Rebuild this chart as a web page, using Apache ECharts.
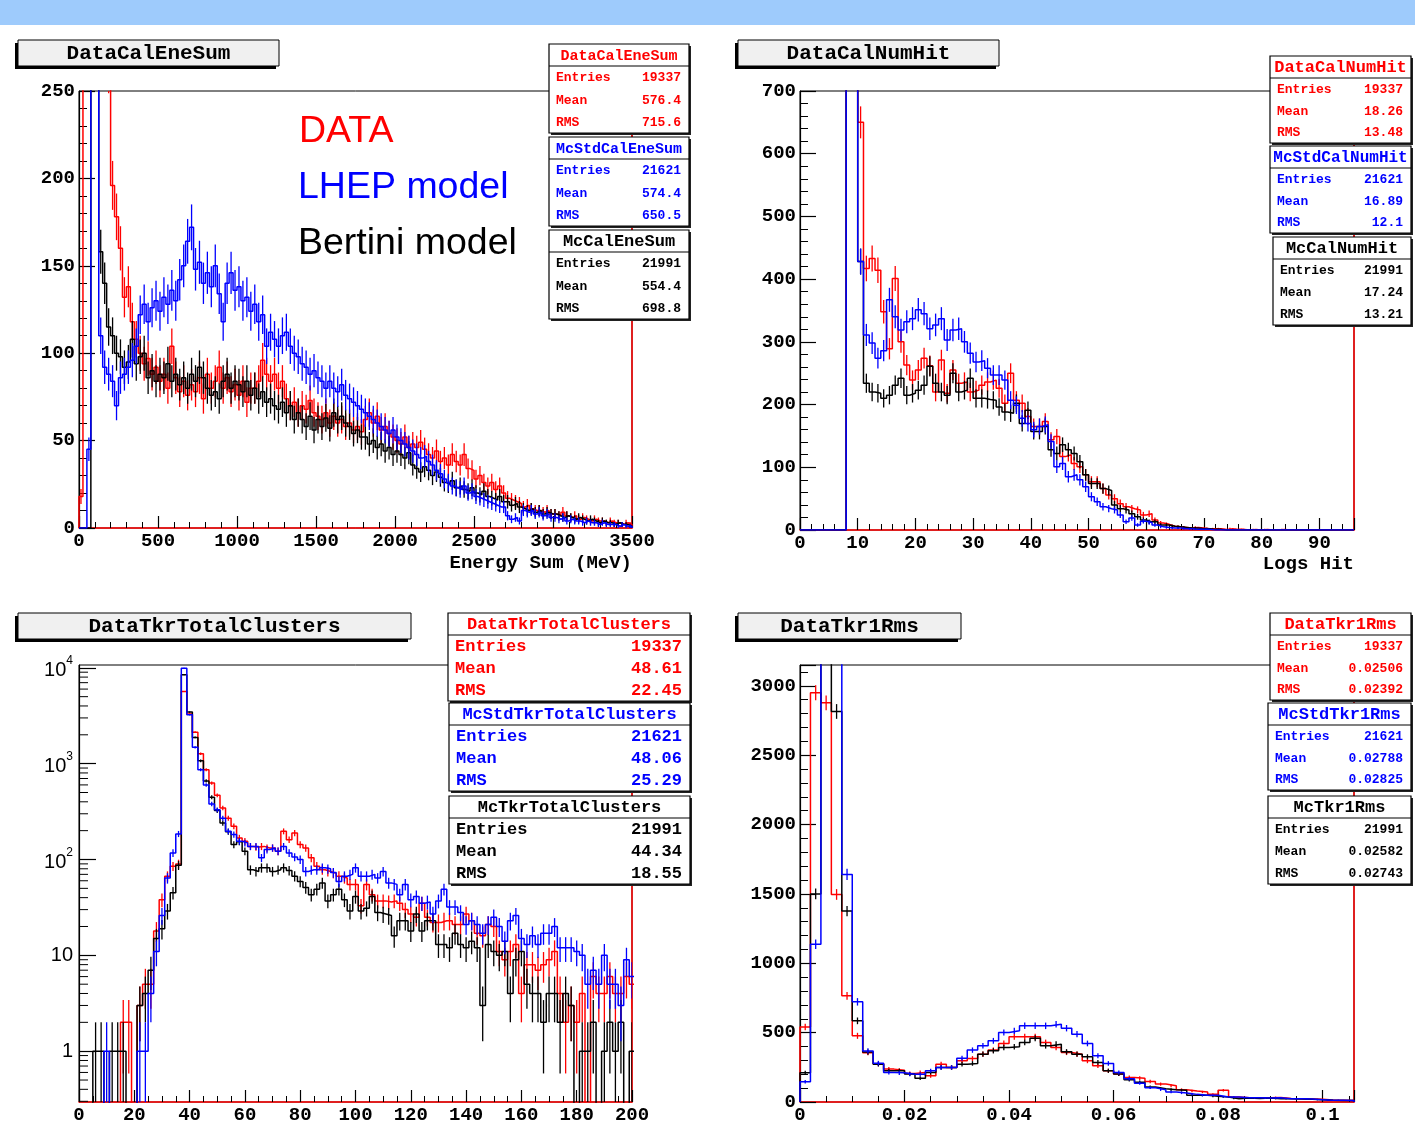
<!DOCTYPE html>
<html>
<head>
<meta charset="utf-8">
<title>DataCalEneSum / DataCalNumHit / DataTkrTotalClusters / DataTkr1Rms</title>
<script src="https://cdn.jsdelivr.net/npm/echarts@6.0.0/dist/echarts.min.js"></script>
<style>
html, body { margin: 0; padding: 0; background: #ffffff; }
#chart { width: 1415px; height: 1125px; }
</style>
</head>
<body>
<div id="chart"></div>
<script>
// ---------------- DATA ----------------
// Panel 1: Energy Sum (MeV), bins of 25 MeV starting at 0
const eneSumBinLow = 0, eneSumBinWidth = 25;
const eneSumData = [
  18, 320, 420, 480, 420, 360, 300, 265, 196, 178,
  160, 132, 138, 118, 108, 100, 94, 97, 88, 92,
  84, 88, 80, 104, 86, 78, 84, 76, 82, 78,
  86, 74, 88, 80, 84, 92, 80, 86, 78, 82,
  76, 84, 72, 80, 80, 84, 96, 88, 84, 88,
  80, 84, 74, 70, 72, 66, 70, 68, 73, 66,
  64, 62, 66, 60, 64, 60, 62, 58, 60, 56,
  58, 55, 62, 66, 60, 64, 56, 58, 54, 52,
  50, 48, 52, 46, 48, 46, 49, 45, 42, 40,
  44, 38, 40, 36, 42, 38, 36, 42, 34, 33,
  28, 30, 26, 24, 26, 22, 24, 20, 17, 16,
  15, 14, 12, 13, 11, 10, 10, 9, 10, 8,
  8, 7, 9, 7, 6, 7, 5, 6, 5, 4,
  5, 4, 4, 3, 4, 3, 3, 2, 3, 2
];
const eneSumLhep = [
  0, 0, 45, 420, 360, 110, 92, 88, 84, 70,
  86, 88, 92, 96, 104, 122, 128, 118, 126, 130,
  124, 132, 128, 136, 130, 142, 150, 164, 172, 148,
  152, 140, 146, 138, 150, 134, 118, 140, 146, 136,
  138, 130, 132, 124, 128, 118, 122, 104, 112, 108,
  104, 110, 112, 104, 100, 98, 94, 92, 88, 90,
  86, 84, 80, 84, 80, 78, 82, 76, 74, 72,
  70, 68, 66, 64, 62, 60, 58, 56, 54, 56,
  52, 50, 48, 46, 44, 42, 40, 41, 38, 36,
  33, 31, 28, 26, 24, 23, 22, 24, 20, 21,
  18, 17, 16, 15, 14, 13, 12, 12, 7, 5,
  6, 4, 10, 9, 10, 8, 9, 7, 8, 6,
  6, 5, 6, 4, 5, 4, 4, 3, 4, 3,
  3, 2, 3, 2, 2, 2, 1, 2, 1, 1
];
const eneSumBertini = [
  0, 0, 0, 400, 380, 158, 140, 115, 110, 100,
  98, 92, 95, 108, 94, 98, 100, 86, 90, 84,
  88, 86, 94, 84, 88, 82, 86, 80, 88, 84,
  92, 86, 80, 76, 78, 74, 84, 88, 80, 84,
  82, 78, 84, 76, 80, 74, 78, 72, 74, 70,
  68, 72, 66, 70, 62, 66, 62, 58, 64, 56,
  62, 58, 63, 57, 66, 62, 64, 60, 58, 54,
  56, 52, 52, 48, 50, 46, 48, 44, 46, 42,
  44, 42, 40, 43, 36, 34, 32, 35, 33, 30,
  32, 29, 26, 25, 27, 23, 24, 22, 21, 23,
  20, 19, 21, 18, 17, 16, 18, 15, 15, 13,
  14, 12, 11, 10, 11, 9, 10, 8, 9, 8,
  8, 7, 6, 7, 6, 5, 6, 5, 4, 5,
  4, 3, 4, 3, 3, 2, 3, 2, 2, 1
];

// Panel 2: Logs Hit, bins of 1 starting at 0
const numHitBinLow = 0, numHitBinWidth = 1;
const numHitData = [
  0, 0, 0, 0, 0, 0, 0, 0, 2600, 2900,
  650, 417, 433, 414, 348, 289, 401, 300, 263, 239,
  255, 274, 262, 220, 271, 218, 255, 234, 236, 220,
  223, 231, 236, 239, 226, 202, 250, 207, 202, 181,
  165, 165, 173, 144, 149, 117, 120, 106, 101, 88,
  77, 77, 66, 56, 50, 42, 37, 34, 32, 24,
  26, 16, 11, 9, 6, 5, 4, 3, 4, 3,
  2, 2, 2, 1, 2, 1, 1, 0, 1, 0,
  1, 0, 0, 1, 0, 0, 0, 0, 0, 0,
  0, 0, 0, 0, 0, 0
];
const numHitLhep = [
  0, 0, 0, 0, 0, 0, 0, 0, 3000, 2800,
  428, 311, 298, 274, 286, 367, 340, 319, 332, 337,
  351, 345, 321, 327, 337, 303, 319, 321, 300, 282,
  268, 270, 258, 247, 247, 239, 207, 199, 178, 170,
  160, 165, 168, 141, 101, 106, 85, 88, 80, 69,
  53, 45, 37, 34, 32, 24, 13, 19, 8, 14,
  12, 8, 5, 4, 3, 3, 2, 2, 1, 1,
  1, 0, 0, 0, 0, 0, 0, 0, 0, 0,
  0, 0, 0, 0, 0, 0, 0, 0, 0, 0,
  0, 0, 0, 0, 0, 0
];
const numHitBertini = [
  0, 0, 0, 0, 0, 0, 0, 0, 2800, 3000,
  428, 234, 220, 218, 210, 215, 231, 242, 215, 218,
  223, 231, 261, 234, 220, 215, 250, 220, 223, 242,
  210, 210, 208, 207, 196, 188, 186, 202, 170, 191,
  157, 157, 165, 128, 122, 136, 128, 122, 109, 88,
  74, 74, 66, 63, 40, 34, 32, 26, 21, 16,
  13, 13, 8, 8, 6, 5, 4, 3, 3, 2,
  2, 1, 1, 0, 0, 0, 0, 0, 0, 0,
  0, 0, 0, 0, 0, 0, 0, 0, 0, 0,
  0, 0, 0, 0, 0, 0
];

// Panel 3: Tkr total clusters, bins of 2 centred on even numbers (0..200)
const clustersBinLow = -1, clustersBinWidth = 2;
const clustersData = [
  0, 0, 0, 0, 0, 0, 0, 0, 2, 2,
  0, 3, 5, 5, 18, 38, 67, 85, 90, 5660,
  3290, 2130, 1270, 865, 628, 468, 345, 270, 222, 168,
  155, 137, 135, 137, 132, 132, 122, 197, 161, 189,
  143, 132, 104, 85, 78, 75, 72, 67, 64, 55,
  55, 33, 55, 43, 37, 37, 36, 37, 35, 30,
  27, 25, 35, 25, 22, 22, 23, 23, 21, 21,
  27, 23, 17, 16, 21, 20, 11, 9, 11, 13,
  4, 8, 8, 7, 8, 9, 11, 4, 2, 3,
  2, 4, 0, 6, 4, 4, 6, 4, 4, 6,
  5
];
const clustersLhep = [
  0, 0, 0, 0, 0, 1, 0, 0, 0, 0,
  0, 1, 1, 4, 11, 26, 64, 117, 185, 9900,
  3240, 1480, 865, 600, 380, 330, 270, 197, 182, 155,
  149, 137, 137, 104, 127, 132, 122, 137, 117, 106,
  100, 75, 78, 78, 82, 80, 73, 59, 67, 70,
  82, 67, 67, 70, 64, 75, 57, 55, 43, 55,
  38, 41, 35, 36, 27, 37, 49, 32, 32, 28,
  21, 23, 21, 17, 21, 25, 20, 14, 23, 26,
  15, 13, 16, 13, 17, 17, 20, 12, 12, 12,
  11, 10, 5, 7, 5, 10, 5, 5, 3, 9,
  6
];
const clustersBertini = [
  0, 0, 0, 1, 1, 0, 1, 1, 1, 0,
  0, 3, 4, 7, 15, 19, 29, 45, 87, 8450,
  3450, 1880, 1070, 660, 446, 324, 240, 195, 143, 153,
  122, 78, 75, 82, 82, 75, 78, 82, 77, 67,
  59, 51, 43, 49, 57, 37, 43, 49, 38, 29,
  41, 29, 31, 41, 28, 27, 26, 16, 23, 23,
  18, 27, 18, 23, 23, 13, 13, 12, 17, 13,
  12, 14, 12, 3, 13, 11, 10, 11, 4, 9,
  11, 5, 4, 4, 2, 4, 4, 2, 4, 3,
  0, 1, 1, 2, 0, 1, 2, 1, 2, 0,
  1
];

// Panel 4: Tkr1 RMS, bins of 0.002 starting at 0
const rmsBinLow = 0, rmsBinWidth = 0.002;
const rmsData = [
  540, 2950, 2877, 1496, 765, 477, 355, 275, 237, 228,
  205, 213, 189, 273, 249, 297, 313, 345, 374, 422,
  470, 470, 470, 429, 393, 357, 345, 297, 261, 225,
  201, 177, 172, 148, 129, 117, 89, 79, 72, 55,
  84, 36, 31, 29, 31, 33, 26, 24, 22, 19,
  14, 12, 10
];
const rmsLhep = [
  146, 1137, 5200, 4800, 1640, 722, 368, 280, 213, 210,
  200, 200, 225, 249, 249, 316, 374, 405, 441, 501,
  513, 549, 549, 549, 561, 532, 489, 422, 333, 278,
  213, 167, 136, 103, 89, 72, 65, 55, 48, 48,
  36, 36, 31, 31, 29, 31, 24, 24, 22, 17,
  12, 12, 10
];
const rmsBertini = [
  210, 1500, 4300, 2815, 1376, 585, 360, 272, 225, 225,
  201, 172, 213, 249, 249, 273, 278, 345, 369, 393,
  398, 429, 460, 405, 417, 362, 345, 326, 285, 225,
  201, 160, 143, 108, 96, 89, 84, 48, 48, 41,
  36, 24, 28, 26, 28, 24, 24, 22, 20, 17,
  12, 10, 10
];

// Titles, axis titles, legend words and statistics boxes
const panelTitles = ['DataCalEneSum', 'DataCalNumHit', 'DataTkrTotalClusters', 'DataTkr1Rms'];
const axisTitles = ['Energy Sum (MeV)', 'Logs Hit'];
const legendWords = ['DATA', 'LHEP model', 'Bertini model'];
const statsEneSum = [
  ['DataCalEneSum', '19337', '576.4', '715.6'],
  ['McStdCalEneSum', '21621', '574.4', '650.5'],
  ['McCalEneSum', '21991', '554.4', '698.8']
];
const statsNumHit = [
  ['DataCalNumHit', '19337', '18.26', '13.48'],
  ['McStdCalNumHit', '21621', '16.89', '12.1'],
  ['McCalNumHit', '21991', '17.24', '13.21']
];
const statsClusters = [
  ['DataTkrTotalClusters', '19337', '48.61', '22.45'],
  ['McStdTkrTotalClusters', '21621', '48.06', '25.29'],
  ['McTkrTotalClusters', '21991', '44.34', '18.55']
];
const statsRms = [
  ['DataTkr1Rms', '19337', '0.02506', '0.02392'],
  ['McStdTkr1Rms', '21621', '0.02788', '0.02825'],
  ['McTkr1Rms', '21991', '0.02582', '0.02743']
];
const statRowLabels = ['Entries', 'Mean', 'RMS'];

// ---------------- CHART ----------------
const FONT = '"Liberation Mono", "DejaVu Sans Mono", monospace';
const SANS = '"Liberation Sans", Arial, sans-serif';
const COLORS = ['#ff0000', '#0000ff', '#000000'];
const DRAW_Z = [3, 5, 4];   // red below, black middle, blue on top
const LOG_MIN = 0.295, LOG_MAX = 10700, LOG_FLOOR = 0.01;

function plainNumber(v) { return String(parseFloat(Number(v).toFixed(6))); }

function stepPoints(vals, low, width, floor) {
  const pts = [[low, floor]];
  for (let i = 0; i < vals.length; i++) pts.push([low + i * width, vals[i] > 0 ? vals[i] : floor]);
  pts.push([low + vals.length * width, floor]);
  return pts;
}
function errPoints(vals, low, width) {
  const out = [];
  vals.forEach(function (v, i) { if (v > 0) out.push([low + (i + 0.5) * width, v, Math.sqrt(v)]); });
  return out;
}
function errRenderer(color, isLog) {
  return function (params, api) {
    const cs = params.coordSys;
    const x = api.value(0), v = api.value(1), e = api.value(2);
    let lo = v - e;
    if (isLog && lo <= LOG_FLOOR) lo = LOG_FLOOR;
    const a = api.coord([x, lo]);
    const b = api.coord([x, v + e]);
    if (a[0] < cs.x - 0.5 || a[0] > cs.x + cs.width + 0.5) return null;
    const top = cs.y, bottom = cs.y + cs.height;
    const y1 = Math.min(Math.max(a[1], top), bottom);
    const y2 = Math.min(Math.max(b[1], top), bottom);
    if (Math.abs(y1 - y2) < 0.5) return null;
    return { type: 'line', shape: { x1: a[0], y1: y1, x2: a[0], y2: y2 }, style: { stroke: color, lineWidth: 1.3 } };
  };
}

const grids = [
  { left: 79, top: 91, width: 553, height: 437 },
  { left: 800, top: 91, width: 554, height: 439 },
  { left: 79, top: 665, width: 553, height: 438 },
  { left: 800, top: 665, width: 554, height: 438 }
].map(function (g) {
  return Object.assign(g, { show: true, borderColor: '#000', borderWidth: 1, backgroundColor: 'transparent', containLabel: false });
});

function labelStyle(extra) {
  return Object.assign({ show: true, color: '#000', fontFamily: FONT, fontWeight: 'bold', fontSize: 19, formatter: plainNumber }, extra);
}
function xAxisDef(grid, min, max, interval, minorSplit, hideMax) {
  return {
    type: 'value', gridIndex: grid, position: 'bottom', min: min, max: max, interval: interval,
    axisLine: { show: true, onZero: false, lineStyle: { color: '#ff0000', width: 1.5 } },
    axisTick: { show: true, inside: true, length: 12, lineStyle: { color: '#000', width: 1.2 } },
    minorTick: { show: true, splitNumber: minorSplit, length: 6, lineStyle: { color: '#000', width: 1 } },
    axisLabel: labelStyle({ margin: 4, showMinLabel: true, showMaxLabel: !hideMax }),
    splitLine: { show: false }, minorSplitLine: { show: false }
  };
}
function yAxisDef(grid, max, interval, hideMax) {
  return {
    type: 'value', gridIndex: grid, position: 'left', min: 0, max: max, interval: interval,
    axisLine: { show: true, onZero: false, lineStyle: { color: '#000', width: 1.2 } },
    axisTick: { show: true, inside: true, length: 16, lineStyle: { color: '#000', width: 1.2 } },
    minorTick: { show: true, splitNumber: 5, length: 8, lineStyle: { color: '#000', width: 1 } },
    axisLabel: labelStyle({ margin: 4, showMinLabel: true, showMaxLabel: !hideMax }),
    splitLine: { show: false }, minorSplitLine: { show: false }
  };
}
function rightAxis(grid) {
  return {
    type: 'value', gridIndex: grid, position: 'right', min: 0, max: 1,
    axisLine: { show: true, onZero: false, lineStyle: { color: '#ff0000', width: 1.5 } },
    axisTick: { show: false }, axisLabel: { show: false }, splitLine: { show: false }
  };
}
const logYAxis = {
  type: 'log', logBase: 10, gridIndex: 2, position: 'left', min: LOG_MIN, max: LOG_MAX,
  axisLine: { show: true, onZero: false, lineStyle: { color: '#000', width: 1.2 } },
  axisTick: { show: true, inside: true, length: 17, lineStyle: { color: '#000', width: 1.2 } },
  minorTick: { show: false },
  axisLabel: {
    show: true, color: '#000', fontFamily: SANS, fontWeight: 'normal', fontSize: 20,
    margin: 6, showMinLabel: false, showMaxLabel: false,
    formatter: function (v) {
      const l = Math.log10(v), e = Math.round(l);
      if (Math.abs(l - e) > 1e-6) return '';
      if (e === 0) return '1';
      if (e === 1) return '10';
      return '{b|10}{s|' + e + '}';
    },
    rich: {
      b: { fontFamily: SANS, fontSize: 20, color: '#000', lineHeight: 26, verticalAlign: 'bottom' },
      s: { fontFamily: SANS, fontSize: 12, color: '#000', verticalAlign: 'top' }
    }
  },
  splitLine: { show: false }, minorSplitLine: { show: false }
};

const xAxes = [
  xAxisDef(0, 0, 3500, 500, 5, false),
  xAxisDef(1, 0, 96, 10, 5, true),
  xAxisDef(2, 0, 200, 20, 4, false),
  xAxisDef(3, 0, 0.106, 0.02, 4, true)
];
const yAxes = [
  yAxisDef(0, 250, 50, false),
  yAxisDef(1, 700, 100, false),
  logYAxis,
  yAxisDef(3, 3150, 500, true),
  rightAxis(0), rightAxis(1), rightAxis(2), rightAxis(3)
];

const panels = [
  { grid: 0, low: eneSumBinLow, width: eneSumBinWidth, sets: [eneSumData, eneSumLhep, eneSumBertini], log: false },
  { grid: 1, low: numHitBinLow, width: numHitBinWidth, sets: [numHitData, numHitLhep, numHitBertini], log: false },
  { grid: 2, low: clustersBinLow, width: clustersBinWidth, sets: [clustersData, clustersLhep, clustersBertini], log: true },
  { grid: 3, low: rmsBinLow, width: rmsBinWidth, sets: [rmsData, rmsLhep, rmsBertini], log: false }
];

const series = [];
panels.forEach(function (p) {
  p.sets.forEach(function (vals, k) {
    const color = COLORS[k];
    series.push({
      type: 'line', xAxisIndex: p.grid, yAxisIndex: p.grid, step: 'end', symbol: 'none', showSymbol: false,
      data: stepPoints(vals, p.low, p.width, p.log ? LOG_FLOOR : 0),
      lineStyle: { color: color, width: 1.5 }, itemStyle: { color: color },
      clip: true, silent: true, z: DRAW_Z[k]
    });
    series.push({
      type: 'custom', xAxisIndex: p.grid, yAxisIndex: p.grid, encode: { x: 0, y: 1 },
      data: errPoints(vals, p.low, p.width), renderItem: errRenderer(color, p.log),
      clip: true, silent: true, z: DRAW_Z[k]
    });
  });
});

// log-axis minor ticks at 2..9 x 10^n (ROOT style)
const logMinorVals = [];
for (let ex = -1; ex <= 4; ex++) {
  for (let m = 2; m <= 9; m++) {
    const v = m * Math.pow(10, ex);
    if (v >= LOG_MIN && v <= LOG_MAX) logMinorVals.push([0, v]);
  }
}
series.push({
  type: 'custom', xAxisIndex: 2, yAxisIndex: 2, encode: { x: 0, y: 1 }, data: logMinorVals, silent: true, z: 10,
  renderItem: function (params, api) {
    const p = api.coord([api.value(0), api.value(1)]);
    return { type: 'line', shape: { x1: p[0], y1: p[1], x2: p[0] + 9, y2: p[1] }, style: { stroke: '#000', lineWidth: 1 } };
  }
});

// ---------------- GRAPHIC (titles, stats boxes, labels) ----------------
function txt(x, y, str, color, font, align, z) {
  return {
    type: 'text', x: x, y: y, z: z || 105, silent: true,
    style: { text: str, fill: color, font: font, align: align, verticalAlign: 'middle', textAlign: align, textVerticalAlign: 'middle' }
  };
}
function titleBox(x, y, w, h, label) {
  return [
    { type: 'rect', shape: { x: x - 3, y: y + 3, width: w, height: h }, style: { fill: '#000' }, z: 100, silent: true },
    { type: 'rect', shape: { x: x, y: y, width: w, height: h }, style: { fill: '#f0f0f0', stroke: '#000', lineWidth: 1 }, z: 101, silent: true },
    txt(x + w / 2, y + h / 2 + 1, label, '#000', 'bold 21px ' + FONT, 'center', 102)
  ];
}
function statsBox(x, y, w, h, color, headSize, rowSize, s) {
  const els = [
    { type: 'rect', shape: { x: x + 2, y: y + 2, width: w, height: h }, style: { fill: '#222' }, z: 100, silent: true },
    { type: 'rect', shape: { x: x, y: y, width: w, height: h }, style: { fill: '#fff', stroke: '#000', lineWidth: 1.2 }, z: 101, silent: true },
    { type: 'line', shape: { x1: x, y1: y + 22, x2: x + w, y2: y + 22 }, style: { stroke: '#000', lineWidth: 1.2 }, z: 102, silent: true },
    txt(x + w / 2, y + 12, s[0], color, 'bold ' + headSize + 'px ' + FONT, 'center', 103)
  ];
  const rowStep = (h - 22) / 3;
  for (let k = 0; k < 3; k++) {
    const yy = y + 23 + rowStep * (k + 0.5);
    els.push(txt(x + 7, yy, statRowLabels[k], color, 'bold ' + rowSize + 'px ' + FONT, 'left', 103));
    els.push(txt(x + w - 8, yy, s[k + 1], color, 'bold ' + rowSize + 'px ' + FONT, 'right', 103));
  }
  return els;
}

let G = [];
G.push({ type: 'rect', shape: { x: 0, y: 0, width: 1415, height: 25 }, style: { fill: '#9ecbfc' }, z: 1, silent: true });
G = G.concat(titleBox(18, 40, 261, 26, panelTitles[0]));
G = G.concat(titleBox(738, 40, 261, 26, panelTitles[1]));
G = G.concat(titleBox(18, 613, 393, 26, panelTitles[2]));
G = G.concat(titleBox(738, 613, 223, 26, panelTitles[3]));

G = G.concat(statsBox(549, 44, 140, 89, COLORS[0], 15, 13, statsEneSum[0]));
G = G.concat(statsBox(549, 137, 140, 89, COLORS[1], 15, 13, statsEneSum[1]));
G = G.concat(statsBox(549, 230, 140, 89, COLORS[2], 17, 13, statsEneSum[2]));

G = G.concat(statsBox(1270, 56, 141, 87, COLORS[0], 17, 13, statsNumHit[0]));
G = G.concat(statsBox(1270, 146, 141, 87, COLORS[1], 16, 13, statsNumHit[1]));
G = G.concat(statsBox(1273, 237, 138, 88, COLORS[2], 17, 13, statsNumHit[2]));

G = G.concat(statsBox(448, 613, 242, 88, COLORS[0], 17, 17, statsClusters[0]));
G = G.concat(statsBox(449, 703, 241, 88, COLORS[1], 17, 17, statsClusters[1]));
G = G.concat(statsBox(449, 796, 241, 88, COLORS[2], 17, 17, statsClusters[2]));

G = G.concat(statsBox(1270, 613, 141, 87, COLORS[0], 17, 13, statsRms[0]));
G = G.concat(statsBox(1268, 703, 143, 87, COLORS[1], 17, 13, statsRms[1]));
G = G.concat(statsBox(1268, 796, 143, 88, COLORS[2], 17, 13, statsRms[2]));

G.push(txt(632, 563, axisTitles[0], '#000', 'bold 19px ' + FONT, 'right', 50));
G.push(txt(1354, 564, axisTitles[1], '#000', 'bold 19px ' + FONT, 'right', 50));

G.push(txt(299, 132, legendWords[0], COLORS[0], '37.5px ' + SANS, 'left', 50));
G.push(txt(298, 188, legendWords[1], COLORS[1], '37.5px ' + SANS, 'left', 50));
G.push(txt(298, 244, legendWords[2], COLORS[2], '37.5px ' + SANS, 'left', 50));

const chart = echarts.init(document.getElementById('chart'), null, { renderer: 'canvas', width: 1415, height: 1125 });
chart.setOption({
  animation: false,
  backgroundColor: '#ffffff',
  textStyle: { fontFamily: FONT },
  tooltip: { show: false },
  grid: grids,
  xAxis: xAxes,
  yAxis: yAxes,
  series: series,
  graphic: { elements: G }
});
</script>
</body>
</html>
